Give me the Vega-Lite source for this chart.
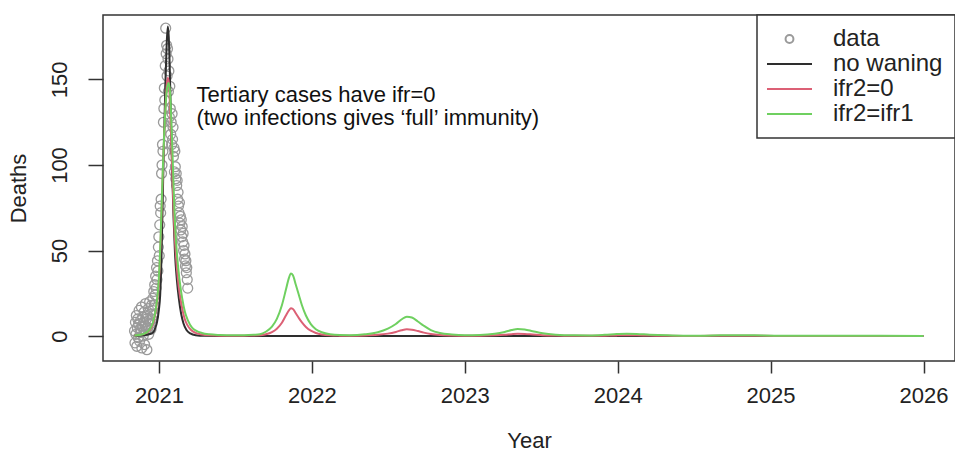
{
  "$schema": "https://vega.github.io/schema/vega-lite/v6.json",
  "width": 852,
  "height": 346,
  "autosize": {"type": "none"},
  "padding": {"left": 103, "top": 15, "right": 0, "bottom": 95},
  "background": "white",
  "config": {
    "view": {"stroke": "#333", "strokeWidth": 1.5},
    "font": "Liberation Sans",
    "axis": {"grid": false, "domain": false, "tickColor": "#333", "tickWidth": 1.5, "labelFont": "Liberation Sans", "labelFontSize": 22, "labelColor": "#222", "titleFont": "Liberation Sans", "titleFontSize": 22, "titleFontWeight": "normal", "titleColor": "#222"},
    "legend": {"orient": "top-right", "offset": 0, "strokeColor": "#333", "strokeWidth": 1.5, "fillColor": "white", "padding": 12, "labelFont": "Liberation Sans", "labelFontSize": 24, "labelColor": "#222", "symbolSize": 126.6, "symbolStrokeWidth": 2, "symbolOffset": 8.5, "labelOffset": 31.5, "rowPadding": 1}
  },
  "datasets": {
    "obs": [
      {"t": 2020.840, "deaths": 3, "series": "data"},
      {"t": 2020.843, "deaths": -4, "series": "data"},
      {"t": 2020.846, "deaths": 8, "series": "data"},
      {"t": 2020.849, "deaths": 1, "series": "data"},
      {"t": 2020.852, "deaths": 12, "series": "data"},
      {"t": 2020.855, "deaths": -6, "series": "data"},
      {"t": 2020.858, "deaths": 5, "series": "data"},
      {"t": 2020.861, "deaths": 10, "series": "data"},
      {"t": 2020.864, "deaths": -1, "series": "data"},
      {"t": 2020.867, "deaths": 7, "series": "data"},
      {"t": 2020.870, "deaths": 15, "series": "data"},
      {"t": 2020.873, "deaths": -3, "series": "data"},
      {"t": 2020.876, "deaths": 4, "series": "data"},
      {"t": 2020.879, "deaths": 9, "series": "data"},
      {"t": 2020.882, "deaths": 2, "series": "data"},
      {"t": 2020.885, "deaths": 17, "series": "data"},
      {"t": 2020.888, "deaths": -7, "series": "data"},
      {"t": 2020.891, "deaths": 6, "series": "data"},
      {"t": 2020.894, "deaths": 11, "series": "data"},
      {"t": 2020.897, "deaths": 0, "series": "data"},
      {"t": 2020.900, "deaths": 8, "series": "data"},
      {"t": 2020.903, "deaths": 14, "series": "data"},
      {"t": 2020.906, "deaths": -5, "series": "data"},
      {"t": 2020.909, "deaths": 6, "series": "data"},
      {"t": 2020.912, "deaths": 19, "series": "data"},
      {"t": 2020.915, "deaths": 3, "series": "data"},
      {"t": 2020.918, "deaths": 10, "series": "data"},
      {"t": 2020.921, "deaths": -8, "series": "data"},
      {"t": 2020.924, "deaths": 12, "series": "data"},
      {"t": 2020.927, "deaths": 5, "series": "data"},
      {"t": 2020.930, "deaths": 16, "series": "data"},
      {"t": 2020.933, "deaths": 1, "series": "data"},
      {"t": 2020.936, "deaths": 9, "series": "data"},
      {"t": 2020.939, "deaths": 20, "series": "data"},
      {"t": 2020.942, "deaths": 7, "series": "data"},
      {"t": 2020.945, "deaths": 13, "series": "data"},
      {"t": 2020.948, "deaths": 4, "series": "data"},
      {"t": 2020.951, "deaths": 18, "series": "data"},
      {"t": 2020.954, "deaths": 10, "series": "data"},
      {"t": 2020.957, "deaths": 15, "series": "data"},
      {"t": 2020.960, "deaths": 22, "series": "data"},
      {"t": 2020.963, "deaths": 12, "series": "data"},
      {"t": 2020.966, "deaths": 26, "series": "data"},
      {"t": 2020.969, "deaths": 18, "series": "data"},
      {"t": 2020.972, "deaths": 30, "series": "data"},
      {"t": 2020.975, "deaths": 24, "series": "data"},
      {"t": 2020.978, "deaths": 35, "series": "data"},
      {"t": 2020.981, "deaths": 28, "series": "data"},
      {"t": 2020.984, "deaths": 40, "series": "data"},
      {"t": 2020.987, "deaths": 33, "series": "data"},
      {"t": 2020.990, "deaths": 44, "series": "data"},
      {"t": 2020.993, "deaths": 38, "series": "data"},
      {"t": 2020.996, "deaths": 52, "series": "data"},
      {"t": 2020.999, "deaths": 58, "series": "data"},
      {"t": 2021.002, "deaths": 47, "series": "data"},
      {"t": 2021.005, "deaths": 65, "series": "data"},
      {"t": 2021.008, "deaths": 76, "series": "data"},
      {"t": 2021.011, "deaths": 72, "series": "data"},
      {"t": 2021.014, "deaths": 80, "series": "data"},
      {"t": 2021.017, "deaths": 95, "series": "data"},
      {"t": 2021.020, "deaths": 100, "series": "data"},
      {"t": 2021.023, "deaths": 112, "series": "data"},
      {"t": 2021.026, "deaths": 108, "series": "data"},
      {"t": 2021.029, "deaths": 125, "series": "data"},
      {"t": 2021.032, "deaths": 133, "series": "data"},
      {"t": 2021.035, "deaths": 145, "series": "data"},
      {"t": 2021.038, "deaths": 138, "series": "data"},
      {"t": 2021.041, "deaths": 158, "series": "data"},
      {"t": 2021.044, "deaths": 180, "series": "data"},
      {"t": 2021.047, "deaths": 165, "series": "data"},
      {"t": 2021.050, "deaths": 170, "series": "data"},
      {"t": 2021.053, "deaths": 152, "series": "data"},
      {"t": 2021.056, "deaths": 168, "series": "data"},
      {"t": 2021.059, "deaths": 162, "series": "data"},
      {"t": 2021.062, "deaths": 143, "series": "data"},
      {"t": 2021.065, "deaths": 155, "series": "data"},
      {"t": 2021.068, "deaths": 128, "series": "data"},
      {"t": 2021.071, "deaths": 146, "series": "data"},
      {"t": 2021.074, "deaths": 133, "series": "data"},
      {"t": 2021.077, "deaths": 118, "series": "data"},
      {"t": 2021.080, "deaths": 125, "series": "data"},
      {"t": 2021.083, "deaths": 112, "series": "data"},
      {"t": 2021.086, "deaths": 130, "series": "data"},
      {"t": 2021.089, "deaths": 115, "series": "data"},
      {"t": 2021.092, "deaths": 122, "series": "data"},
      {"t": 2021.095, "deaths": 105, "series": "data"},
      {"t": 2021.098, "deaths": 110, "series": "data"},
      {"t": 2021.101, "deaths": 96, "series": "data"},
      {"t": 2021.104, "deaths": 108, "series": "data"},
      {"t": 2021.107, "deaths": 99, "series": "data"},
      {"t": 2021.110, "deaths": 92, "series": "data"},
      {"t": 2021.113, "deaths": 95, "series": "data"},
      {"t": 2021.116, "deaths": 88, "series": "data"},
      {"t": 2021.119, "deaths": 91, "series": "data"},
      {"t": 2021.122, "deaths": 80, "series": "data"},
      {"t": 2021.125, "deaths": 84, "series": "data"},
      {"t": 2021.128, "deaths": 76, "series": "data"},
      {"t": 2021.131, "deaths": 72, "series": "data"},
      {"t": 2021.134, "deaths": 78, "series": "data"},
      {"t": 2021.137, "deaths": 66, "series": "data"},
      {"t": 2021.140, "deaths": 70, "series": "data"},
      {"t": 2021.143, "deaths": 62, "series": "data"},
      {"t": 2021.146, "deaths": 68, "series": "data"},
      {"t": 2021.149, "deaths": 58, "series": "data"},
      {"t": 2021.152, "deaths": 64, "series": "data"},
      {"t": 2021.155, "deaths": 55, "series": "data"},
      {"t": 2021.158, "deaths": 60, "series": "data"},
      {"t": 2021.161, "deaths": 50, "series": "data"},
      {"t": 2021.164, "deaths": 53, "series": "data"},
      {"t": 2021.167, "deaths": 45, "series": "data"},
      {"t": 2021.170, "deaths": 48, "series": "data"},
      {"t": 2021.173, "deaths": 41, "series": "data"},
      {"t": 2021.176, "deaths": 44, "series": "data"},
      {"t": 2021.179, "deaths": 37, "series": "data"},
      {"t": 2021.182, "deaths": 40, "series": "data"},
      {"t": 2021.185, "deaths": 33, "series": "data"},
      {"t": 2021.188, "deaths": 28, "series": "data"}
    ],
    "model": [
      {"t": 2020.840, "deaths": 0.1, "series": "no waning"},
      {"t": 2020.900, "deaths": 0.4, "series": "no waning"},
      {"t": 2020.940, "deaths": 1.2, "series": "no waning"},
      {"t": 2020.961, "deaths": 2, "series": "no waning"},
      {"t": 2020.975, "deaths": 4.5, "series": "no waning"},
      {"t": 2020.987, "deaths": 8, "series": "no waning"},
      {"t": 2020.999, "deaths": 15, "series": "no waning"},
      {"t": 2021.008, "deaths": 24, "series": "no waning"},
      {"t": 2021.014, "deaths": 38, "series": "no waning"},
      {"t": 2021.020, "deaths": 60, "series": "no waning"},
      {"t": 2021.027, "deaths": 90, "series": "no waning"},
      {"t": 2021.035, "deaths": 122, "series": "no waning"},
      {"t": 2021.043, "deaths": 150, "series": "no waning"},
      {"t": 2021.051, "deaths": 172, "series": "no waning"},
      {"t": 2021.058, "deaths": 181, "series": "no waning"},
      {"t": 2021.064, "deaths": 175, "series": "no waning"},
      {"t": 2021.071, "deaths": 155, "series": "no waning"},
      {"t": 2021.078, "deaths": 128, "series": "no waning"},
      {"t": 2021.086, "deaths": 98, "series": "no waning"},
      {"t": 2021.095, "deaths": 70, "series": "no waning"},
      {"t": 2021.105, "deaths": 48, "series": "no waning"},
      {"t": 2021.117, "deaths": 33, "series": "no waning"},
      {"t": 2021.130, "deaths": 22, "series": "no waning"},
      {"t": 2021.145, "deaths": 13, "series": "no waning"},
      {"t": 2021.160, "deaths": 7.5, "series": "no waning"},
      {"t": 2021.180, "deaths": 3.5, "series": "no waning"},
      {"t": 2021.205, "deaths": 1.5, "series": "no waning"},
      {"t": 2021.240, "deaths": 0.5, "series": "no waning"},
      {"t": 2021.300, "deaths": 0.15, "series": "no waning"},
      {"t": 2021.400, "deaths": 0.05, "series": "no waning"},
      {"t": 2021.600, "deaths": 0.01, "series": "no waning"},
      {"t": 2022.000, "deaths": 0, "series": "no waning"},
      {"t": 2023.000, "deaths": 0, "series": "no waning"},
      {"t": 2024.000, "deaths": 0, "series": "no waning"},
      {"t": 2025.000, "deaths": 0, "series": "no waning"},
      {"t": 2026.000, "deaths": 0, "series": "no waning"},

      {"t": 2020.840, "deaths": 0.3, "series": "ifr2=0"},
      {"t": 2020.900, "deaths": 1.1, "series": "ifr2=0"},
      {"t": 2020.940, "deaths": 3.5, "series": "ifr2=0"},
      {"t": 2020.961, "deaths": 7, "series": "ifr2=0"},
      {"t": 2020.978, "deaths": 14, "series": "ifr2=0"},
      {"t": 2020.993, "deaths": 24, "series": "ifr2=0"},
      {"t": 2021.003, "deaths": 37, "series": "ifr2=0"},
      {"t": 2021.010, "deaths": 53, "series": "ifr2=0"},
      {"t": 2021.017, "deaths": 72, "series": "ifr2=0"},
      {"t": 2021.025, "deaths": 95, "series": "ifr2=0"},
      {"t": 2021.034, "deaths": 117, "series": "ifr2=0"},
      {"t": 2021.043, "deaths": 135, "series": "ifr2=0"},
      {"t": 2021.051, "deaths": 147, "series": "ifr2=0"},
      {"t": 2021.059, "deaths": 151, "series": "ifr2=0"},
      {"t": 2021.067, "deaths": 145, "series": "ifr2=0"},
      {"t": 2021.075, "deaths": 128, "series": "ifr2=0"},
      {"t": 2021.083, "deaths": 107, "series": "ifr2=0"},
      {"t": 2021.091, "deaths": 85, "series": "ifr2=0"},
      {"t": 2021.100, "deaths": 64, "series": "ifr2=0"},
      {"t": 2021.111, "deaths": 47, "series": "ifr2=0"},
      {"t": 2021.123, "deaths": 34, "series": "ifr2=0"},
      {"t": 2021.135, "deaths": 25, "series": "ifr2=0"},
      {"t": 2021.148, "deaths": 18, "series": "ifr2=0"},
      {"t": 2021.165, "deaths": 11, "series": "ifr2=0"},
      {"t": 2021.185, "deaths": 6.5, "series": "ifr2=0"},
      {"t": 2021.210, "deaths": 3.5, "series": "ifr2=0"},
      {"t": 2021.240, "deaths": 1.8, "series": "ifr2=0"},
      {"t": 2021.280, "deaths": 0.9, "series": "ifr2=0"},
      {"t": 2021.330, "deaths": 0.4, "series": "ifr2=0"},
      {"t": 2021.400, "deaths": 0.2, "series": "ifr2=0"},
      {"t": 2021.500, "deaths": 0.15, "series": "ifr2=0"},
      {"t": 2021.600, "deaths": 0.25, "series": "ifr2=0"},
      {"t": 2021.660, "deaths": 0.4, "series": "ifr2=0"},
      {"t": 2021.699, "deaths": 1.0, "series": "ifr2=0"},
      {"t": 2021.739, "deaths": 2.3, "series": "ifr2=0"},
      {"t": 2021.771, "deaths": 4.3, "series": "ifr2=0"},
      {"t": 2021.804, "deaths": 7.8, "series": "ifr2=0"},
      {"t": 2021.830, "deaths": 12, "series": "ifr2=0"},
      {"t": 2021.850, "deaths": 15, "series": "ifr2=0"},
      {"t": 2021.863, "deaths": 16.2, "series": "ifr2=0"},
      {"t": 2021.876, "deaths": 15.8, "series": "ifr2=0"},
      {"t": 2021.895, "deaths": 13.3, "series": "ifr2=0"},
      {"t": 2021.915, "deaths": 10.5, "series": "ifr2=0"},
      {"t": 2021.935, "deaths": 8, "series": "ifr2=0"},
      {"t": 2021.961, "deaths": 5.3, "series": "ifr2=0"},
      {"t": 2021.993, "deaths": 3.1, "series": "ifr2=0"},
      {"t": 2022.026, "deaths": 1.8, "series": "ifr2=0"},
      {"t": 2022.065, "deaths": 0.9, "series": "ifr2=0"},
      {"t": 2022.118, "deaths": 0.4, "series": "ifr2=0"},
      {"t": 2022.183, "deaths": 0.22, "series": "ifr2=0"},
      {"t": 2022.248, "deaths": 0.15, "series": "ifr2=0"},
      {"t": 2022.346, "deaths": 0.3, "series": "ifr2=0"},
      {"t": 2022.431, "deaths": 0.7, "series": "ifr2=0"},
      {"t": 2022.497, "deaths": 1.4, "series": "ifr2=0"},
      {"t": 2022.549, "deaths": 2.4, "series": "ifr2=0"},
      {"t": 2022.588, "deaths": 3.4, "series": "ifr2=0"},
      {"t": 2022.621, "deaths": 3.9, "series": "ifr2=0"},
      {"t": 2022.654, "deaths": 3.7, "series": "ifr2=0"},
      {"t": 2022.693, "deaths": 2.9, "series": "ifr2=0"},
      {"t": 2022.732, "deaths": 2.0, "series": "ifr2=0"},
      {"t": 2022.778, "deaths": 1.2, "series": "ifr2=0"},
      {"t": 2022.837, "deaths": 0.6, "series": "ifr2=0"},
      {"t": 2022.915, "deaths": 0.3, "series": "ifr2=0"},
      {"t": 2023.000, "deaths": 0.15, "series": "ifr2=0"},
      {"t": 2023.098, "deaths": 0.15, "series": "ifr2=0"},
      {"t": 2023.196, "deaths": 0.4, "series": "ifr2=0"},
      {"t": 2023.261, "deaths": 0.75, "series": "ifr2=0"},
      {"t": 2023.307, "deaths": 1.1, "series": "ifr2=0"},
      {"t": 2023.346, "deaths": 1.3, "series": "ifr2=0"},
      {"t": 2023.392, "deaths": 1.2, "series": "ifr2=0"},
      {"t": 2023.444, "deaths": 0.9, "series": "ifr2=0"},
      {"t": 2023.510, "deaths": 0.5, "series": "ifr2=0"},
      {"t": 2023.595, "deaths": 0.25, "series": "ifr2=0"},
      {"t": 2023.719, "deaths": 0.12, "series": "ifr2=0"},
      {"t": 2023.817, "deaths": 0.1, "series": "ifr2=0"},
      {"t": 2023.915, "deaths": 0.22, "series": "ifr2=0"},
      {"t": 2023.993, "deaths": 0.38, "series": "ifr2=0"},
      {"t": 2024.059, "deaths": 0.45, "series": "ifr2=0"},
      {"t": 2024.124, "deaths": 0.4, "series": "ifr2=0"},
      {"t": 2024.209, "deaths": 0.26, "series": "ifr2=0"},
      {"t": 2024.327, "deaths": 0.12, "series": "ifr2=0"},
      {"t": 2024.430, "deaths": 0.06, "series": "ifr2=0"},
      {"t": 2024.536, "deaths": 0.06, "series": "ifr2=0"},
      {"t": 2024.667, "deaths": 0.13, "series": "ifr2=0"},
      {"t": 2024.778, "deaths": 0.16, "series": "ifr2=0"},
      {"t": 2024.895, "deaths": 0.13, "series": "ifr2=0"},
      {"t": 2025.026, "deaths": 0.07, "series": "ifr2=0"},
      {"t": 2025.255, "deaths": 0.03, "series": "ifr2=0"},
      {"t": 2025.484, "deaths": 0.06, "series": "ifr2=0"},
      {"t": 2025.712, "deaths": 0.03, "series": "ifr2=0"},
      {"t": 2026.000, "deaths": 0.02, "series": "ifr2=0"},

      {"t": 2020.840, "deaths": 0.3, "series": "ifr2=ifr1"},
      {"t": 2020.900, "deaths": 1.2, "series": "ifr2=ifr1"},
      {"t": 2020.940, "deaths": 4, "series": "ifr2=ifr1"},
      {"t": 2020.961, "deaths": 8, "series": "ifr2=ifr1"},
      {"t": 2020.978, "deaths": 15, "series": "ifr2=ifr1"},
      {"t": 2020.993, "deaths": 26, "series": "ifr2=ifr1"},
      {"t": 2021.003, "deaths": 40, "series": "ifr2=ifr1"},
      {"t": 2021.010, "deaths": 56, "series": "ifr2=ifr1"},
      {"t": 2021.017, "deaths": 75, "series": "ifr2=ifr1"},
      {"t": 2021.025, "deaths": 97, "series": "ifr2=ifr1"},
      {"t": 2021.034, "deaths": 118, "series": "ifr2=ifr1"},
      {"t": 2021.043, "deaths": 134, "series": "ifr2=ifr1"},
      {"t": 2021.053, "deaths": 145, "series": "ifr2=ifr1"},
      {"t": 2021.063, "deaths": 148, "series": "ifr2=ifr1"},
      {"t": 2021.072, "deaths": 143, "series": "ifr2=ifr1"},
      {"t": 2021.080, "deaths": 128, "series": "ifr2=ifr1"},
      {"t": 2021.088, "deaths": 108, "series": "ifr2=ifr1"},
      {"t": 2021.096, "deaths": 86, "series": "ifr2=ifr1"},
      {"t": 2021.105, "deaths": 65, "series": "ifr2=ifr1"},
      {"t": 2021.116, "deaths": 50, "series": "ifr2=ifr1"},
      {"t": 2021.128, "deaths": 38, "series": "ifr2=ifr1"},
      {"t": 2021.140, "deaths": 29, "series": "ifr2=ifr1"},
      {"t": 2021.152, "deaths": 22, "series": "ifr2=ifr1"},
      {"t": 2021.170, "deaths": 14, "series": "ifr2=ifr1"},
      {"t": 2021.190, "deaths": 9, "series": "ifr2=ifr1"},
      {"t": 2021.215, "deaths": 5, "series": "ifr2=ifr1"},
      {"t": 2021.245, "deaths": 3, "series": "ifr2=ifr1"},
      {"t": 2021.280, "deaths": 1.8, "series": "ifr2=ifr1"},
      {"t": 2021.330, "deaths": 1.0, "series": "ifr2=ifr1"},
      {"t": 2021.400, "deaths": 0.6, "series": "ifr2=ifr1"},
      {"t": 2021.480, "deaths": 0.4, "series": "ifr2=ifr1"},
      {"t": 2021.560, "deaths": 0.45, "series": "ifr2=ifr1"},
      {"t": 2021.620, "deaths": 0.7, "series": "ifr2=ifr1"},
      {"t": 2021.660, "deaths": 1.0, "series": "ifr2=ifr1"},
      {"t": 2021.699, "deaths": 2.5, "series": "ifr2=ifr1"},
      {"t": 2021.739, "deaths": 5.5, "series": "ifr2=ifr1"},
      {"t": 2021.771, "deaths": 10, "series": "ifr2=ifr1"},
      {"t": 2021.804, "deaths": 18, "series": "ifr2=ifr1"},
      {"t": 2021.830, "deaths": 27, "series": "ifr2=ifr1"},
      {"t": 2021.850, "deaths": 34, "series": "ifr2=ifr1"},
      {"t": 2021.863, "deaths": 36.6, "series": "ifr2=ifr1"},
      {"t": 2021.876, "deaths": 35.5, "series": "ifr2=ifr1"},
      {"t": 2021.895, "deaths": 30, "series": "ifr2=ifr1"},
      {"t": 2021.915, "deaths": 24, "series": "ifr2=ifr1"},
      {"t": 2021.935, "deaths": 18, "series": "ifr2=ifr1"},
      {"t": 2021.961, "deaths": 12, "series": "ifr2=ifr1"},
      {"t": 2021.993, "deaths": 7, "series": "ifr2=ifr1"},
      {"t": 2022.026, "deaths": 4, "series": "ifr2=ifr1"},
      {"t": 2022.065, "deaths": 2.2, "series": "ifr2=ifr1"},
      {"t": 2022.118, "deaths": 1.0, "series": "ifr2=ifr1"},
      {"t": 2022.183, "deaths": 0.55, "series": "ifr2=ifr1"},
      {"t": 2022.248, "deaths": 0.5, "series": "ifr2=ifr1"},
      {"t": 2022.346, "deaths": 1.0, "series": "ifr2=ifr1"},
      {"t": 2022.431, "deaths": 2.2, "series": "ifr2=ifr1"},
      {"t": 2022.497, "deaths": 4.3, "series": "ifr2=ifr1"},
      {"t": 2022.549, "deaths": 7, "series": "ifr2=ifr1"},
      {"t": 2022.588, "deaths": 9.8, "series": "ifr2=ifr1"},
      {"t": 2022.621, "deaths": 11.3, "series": "ifr2=ifr1"},
      {"t": 2022.654, "deaths": 10.8, "series": "ifr2=ifr1"},
      {"t": 2022.693, "deaths": 8.5, "series": "ifr2=ifr1"},
      {"t": 2022.732, "deaths": 6, "series": "ifr2=ifr1"},
      {"t": 2022.778, "deaths": 3.5, "series": "ifr2=ifr1"},
      {"t": 2022.837, "deaths": 1.8, "series": "ifr2=ifr1"},
      {"t": 2022.915, "deaths": 0.9, "series": "ifr2=ifr1"},
      {"t": 2023.000, "deaths": 0.5, "series": "ifr2=ifr1"},
      {"t": 2023.098, "deaths": 0.6, "series": "ifr2=ifr1"},
      {"t": 2023.196, "deaths": 1.3, "series": "ifr2=ifr1"},
      {"t": 2023.261, "deaths": 2.4, "series": "ifr2=ifr1"},
      {"t": 2023.307, "deaths": 3.5, "series": "ifr2=ifr1"},
      {"t": 2023.346, "deaths": 4.1, "series": "ifr2=ifr1"},
      {"t": 2023.392, "deaths": 3.8, "series": "ifr2=ifr1"},
      {"t": 2023.444, "deaths": 2.8, "series": "ifr2=ifr1"},
      {"t": 2023.510, "deaths": 1.6, "series": "ifr2=ifr1"},
      {"t": 2023.595, "deaths": 0.8, "series": "ifr2=ifr1"},
      {"t": 2023.719, "deaths": 0.4, "series": "ifr2=ifr1"},
      {"t": 2023.817, "deaths": 0.35, "series": "ifr2=ifr1"},
      {"t": 2023.915, "deaths": 0.7, "series": "ifr2=ifr1"},
      {"t": 2023.993, "deaths": 1.15, "series": "ifr2=ifr1"},
      {"t": 2024.059, "deaths": 1.4, "series": "ifr2=ifr1"},
      {"t": 2024.124, "deaths": 1.25, "series": "ifr2=ifr1"},
      {"t": 2024.209, "deaths": 0.8, "series": "ifr2=ifr1"},
      {"t": 2024.327, "deaths": 0.4, "series": "ifr2=ifr1"},
      {"t": 2024.430, "deaths": 0.22, "series": "ifr2=ifr1"},
      {"t": 2024.536, "deaths": 0.2, "series": "ifr2=ifr1"},
      {"t": 2024.667, "deaths": 0.4, "series": "ifr2=ifr1"},
      {"t": 2024.778, "deaths": 0.5, "series": "ifr2=ifr1"},
      {"t": 2024.895, "deaths": 0.42, "series": "ifr2=ifr1"},
      {"t": 2025.026, "deaths": 0.22, "series": "ifr2=ifr1"},
      {"t": 2025.255, "deaths": 0.1, "series": "ifr2=ifr1"},
      {"t": 2025.484, "deaths": 0.18, "series": "ifr2=ifr1"},
      {"t": 2025.712, "deaths": 0.1, "series": "ifr2=ifr1"},
      {"t": 2026.000, "deaths": 0.05, "series": "ifr2=ifr1"}
    ],
    "note": [
      {"t": 2021.245, "deaths": 137.0, "label": "Tertiary cases have ifr=0"},
      {"t": 2021.245, "deaths": 123.3, "label": "(two infections gives ‘full’ immunity)"}
    ]
  },
  "layer": [
    {
      "data": {"name": "obs"},
      "mark": {"type": "point", "filled": false, "strokeWidth": 1.3, "size": 200, "opacity": 1},
      "encoding": {
        "x": {"field": "t", "type": "quantitative", "scale": {"domain": [2020.634, 2026.206], "nice": false, "zero": false},
              "axis": {"values": [2021, 2022, 2023, 2024, 2025, 2026], "format": "d", "tickSize": 12, "labelPadding": 12, "titlePadding": 24, "title": "Year", "labelFlush": false, "labelOverlap": false}},
        "y": {"field": "deaths", "type": "quantitative", "scale": {"domain": [-14.6, 187.7], "nice": false, "zero": false},
              "axis": {"values": [0, 50, 100, 150], "labelAngle": 270, "labelAlign": "center", "labelBaseline": "alphabetic", "tickSize": 15, "labelPadding": 22, "titlePadding": 18, "title": "Deaths"}},
        "color": {"field": "series", "type": "nominal", "scale": {"domain": ["data", "no waning", "ifr2=0", "ifr2=ifr1"], "range": ["#9a9a9a", "#2e2e2e", "#dc6075", "#6fd060"]}, "legend": {"title": null}},
        "shape": {"field": "series", "type": "nominal", "scale": {"domain": ["data", "no waning", "ifr2=0", "ifr2=ifr1"], "range": ["M-0.7,0A0.7,0.7,0,1,1,0.7,0A0.7,0.7,0,1,1,-0.7,0Z", "M-4,0L4,0", "M-4,0L4,0", "M-4,0L4,0"]}, "legend": {"title": null}}
      }
    },
    {
      "data": {"name": "model"},
      "mark": {"type": "line", "interpolate": "monotone", "strokeWidth": 2},
      "encoding": {
        "x": {"field": "t", "type": "quantitative"},
        "y": {"field": "deaths", "type": "quantitative"},
        "color": {"field": "series", "type": "nominal"}
      }
    },
    {
      "data": {"name": "note"},
      "mark": {"type": "text", "align": "left", "baseline": "alphabetic", "fontSize": 22, "font": "Liberation Sans", "color": "#111"},
      "encoding": {
        "x": {"field": "t", "type": "quantitative"},
        "y": {"field": "deaths", "type": "quantitative"},
        "text": {"field": "label"}
      }
    }
  ]
}
